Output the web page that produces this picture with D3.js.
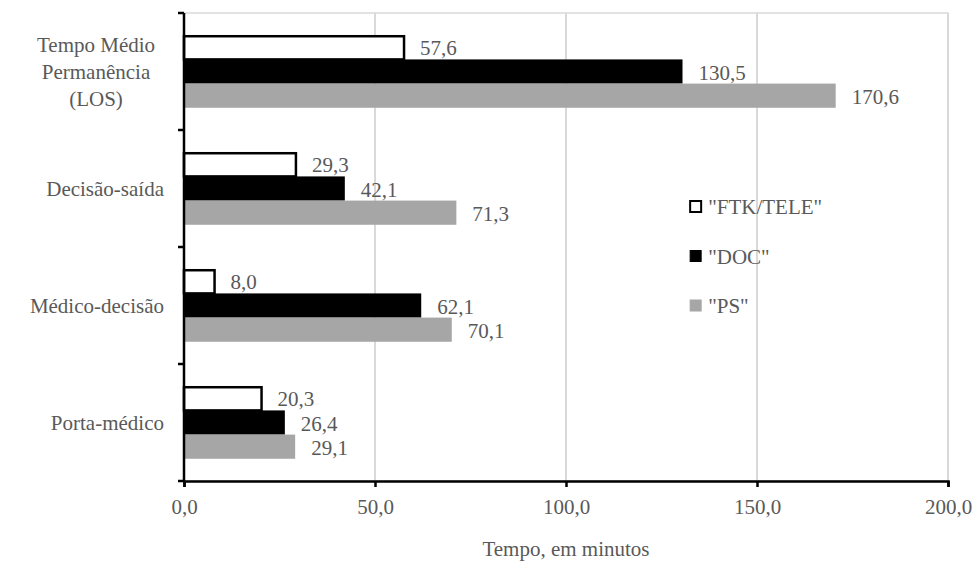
<!DOCTYPE html>
<html>
<head>
<meta charset="utf-8">
<script src="https://cdn.jsdelivr.net/npm/d3@7"></script>
<style>
  body { margin: 0; background: #fff; }
  svg text { font-family: 'Liberation Serif', 'DejaVu Serif', serif; fill: #595959; }
</style>
</head>
<body>
<svg id="chart" width="980" height="564"></svg>
<script>
// Data ----------------------------------------
const categories = [
    ["Tempo Médio", "Permanência", "(LOS)"],
    ["Decisão-saída"],
    ["Médico-decisão"],
    ["Porta-médico"]
];
const seriesNames = ["\"FTK/TELE\"", "\"DOC\"", "\"PS\""];
const ftkValues = [57.6, 29.3, 8.0, 20.3];
const docValues = [130.5, 42.1, 62.1, 26.4];
const psValues  = [170.6, 71.3, 70.1, 29.1];
const xTicks = [0, 50, 100, 150, 200];

const fills = ["#ffffff", "#000000", "#a6a6a6"];
const serifFont = "'Liberation Serif', 'DejaVu Serif', serif";

let margin = { top: 13, right: 32, bottom: 83, left: 184 };
let width = 980 - margin.left - margin.right;
let height = 564 - margin.top - margin.bottom;

let svg = d3.select("#chart")
    .attr("font-family", serifFont)
    .append("g")
    .attr("transform", `translate(${margin.left},${margin.top})`);

let x = d3.scaleLinear().domain([0, 200]).range([0, width]);
let y = d3.scaleBand().domain(d3.range(categories.length)).range([0, height]).paddingInner(0.38).paddingOuter(0.19);
let ySub = d3.scaleBand().domain([0, 1, 2]).range([0, y.bandwidth()]);

// Plot border and gridlines
svg.append("rect")
    .attr("x", 0).attr("y", 0)
    .attr("width", width).attr("height", height)
    .attr("fill", "none")
    .attr("stroke", "#d9d9d9")
    .attr("stroke-width", 1.5);

svg.append("g")
    .selectAll("line")
    .data(xTicks.slice(1))
    .enter().append("line")
    .attr("x1", d => x(d)).attr("x2", d => x(d))
    .attr("y1", 0).attr("y2", height)
    .attr("stroke", "#d9d9d9")
    .attr("stroke-width", 2);

// Bars
const allSeries = [ftkValues, docValues, psValues];
allSeries.forEach((vals, s) => {
    let g = svg.append("g");
    g.selectAll("rect")
        .data(vals)
        .enter().append("rect")
        .attr("x", 0)
        .attr("y", (d, i) => y(i) + ySub(s) + (s === 0 ? 1 : 0))
        .attr("width", d => x(d))
        .attr("height", ySub.bandwidth() - (s === 0 ? 1 : 0))
        .attr("fill", fills[s])
        .attr("stroke", s === 0 ? "#000" : "none")
        .attr("stroke-width", 2.5);

    g.selectAll("text")
        .data(vals)
        .enter().append("text")
        .attr("x", d => x(d) + 16)
        .attr("y", (d, i) => y(i) + ySub(s) + ySub.bandwidth() / 2 + 8)
        .attr("font-size", "21px")
        .text(d => d3.format(".1f")(d).replace(".", ","));
});

// Y axis line with category boundary ticks
svg.append("line")
    .attr("x1", 0).attr("x2", 0)
    .attr("y1", 0).attr("y2", height)
    .attr("stroke", "#000").attr("stroke-width", 2.5);

svg.append("g")
    .selectAll("line")
    .data(d3.range(categories.length + 1))
    .enter().append("line")
    .attr("x1", -6).attr("x2", 0)
    .attr("y1", d => d * height / categories.length)
    .attr("y2", d => d * height / categories.length)
    .attr("stroke", "#000").attr("stroke-width", 2.5);

// Category labels
categories.forEach((lines, i) => {
    let cy = y(i) + y.bandwidth() / 2;
    let lh = 27;
    let t = svg.append("text")
        .attr("text-anchor", lines.length > 1 ? "middle" : "end")
        .attr("font-size", "21px");
    lines.forEach((ln, k) => {
        t.append("tspan")
            .attr("x", lines.length > 1 ? -88 : -20)
            .attr("y", cy + 7 + (k - (lines.length - 1) / 2) * lh)
            .text(ln);
    });
});

// X axis
let xAxis = svg.append("g")
    .attr("transform", `translate(0,${height})`)
    .call(d3.axisBottom(x).tickValues(xTicks).tickSize(6).tickPadding(12)
        .tickFormat(d => d3.format(".1f")(d).replace(".", ",")));
xAxis.attr("font-family", serifFont).attr("font-size", "21px");
xAxis.select(".domain").attr("stroke", "#000").attr("stroke-width", 2.5);
xAxis.selectAll(".tick line").attr("stroke", "#000").attr("stroke-width", 2.5);
xAxis.selectAll(".tick text").attr("fill", "#595959");

svg.append("text")
    .attr("x", width / 2)
    .attr("y", height + 75)
    .attr("text-anchor", "middle")
    .attr("font-size", "21px")
    .text("Tempo, em minutos");

// Legend
let legend = svg.append("g")
    .attr("transform", `translate(${x(132.5)},${194})`);
seriesNames.forEach((name, s) => {
    let row = legend.append("g").attr("transform", `translate(0,${s * 49.5})`);
    row.append("rect")
        .attr("x", 0).attr("y", -6)
        .attr("width", 11).attr("height", 11)
        .attr("fill", fills[s])
        .attr("stroke", s === 0 ? "#000" : fills[s])
        .attr("stroke-width", s === 0 ? 2 : 1);
    row.append("text")
        .attr("x", 18).attr("y", 7)
        .attr("font-size", "21px")
        .text(name);
});
</script>
</body>
</html>
